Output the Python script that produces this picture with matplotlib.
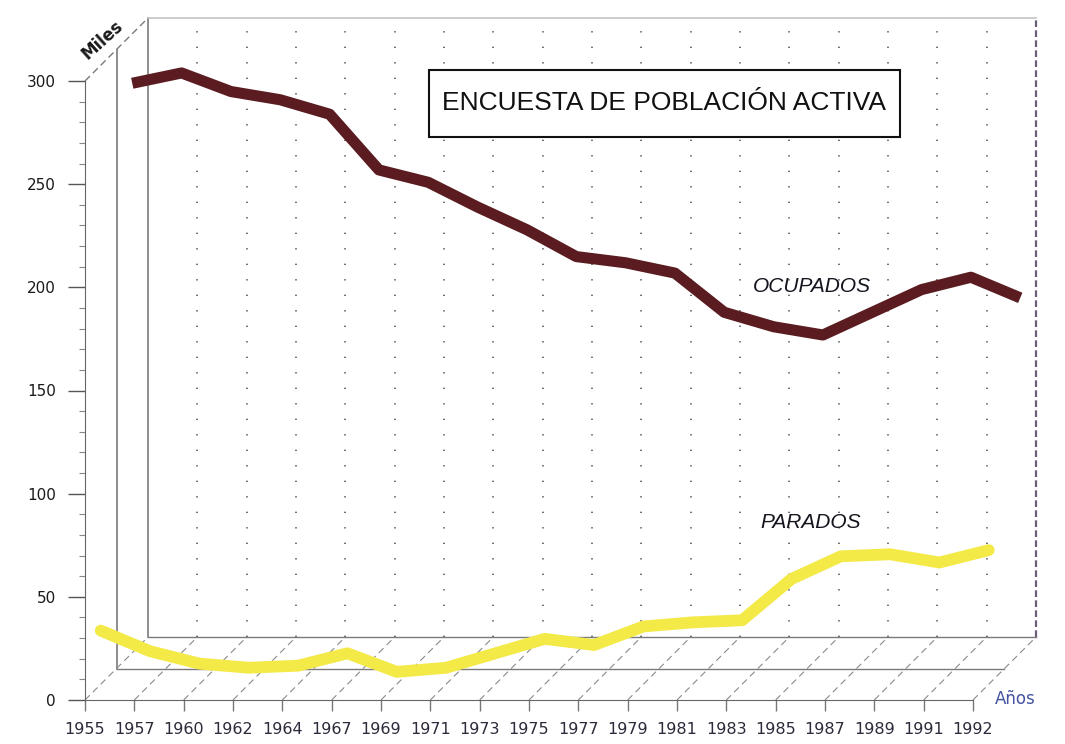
import matplotlib
matplotlib.use("Agg")
import matplotlib.pyplot as plt
from matplotlib.patches import Rectangle
from matplotlib.ticker import MultipleLocator
import numpy as np

years = ['1955', '1957', '1960', '1962', '1964', '1967', '1969', '1971', '1973',
         '1975', '1977', '1979', '1981', '1983', '1985', '1987', '1989', '1991', '1992']
ocupados = [276, 281, 272, 268, 261, 234, 228, 216, 205, 192,
            189, 184, 165, 158, 154, 165, 176, 182, 172]
parados = [26, 16, 10, 8, 9, 15, 6, 8, 15, 22,
           19, 28, 30, 31, 51, 62, 63, 59, 65]

W, H = 1065, 744
fig = plt.figure(figsize=(W / 100, H / 100), dpi=100)
fig.patch.set_facecolor('white')

# front plane of the pseudo 3d box
left, right, bottom, top = 85, 973, 44, 663
ax = fig.add_axes([left / W, bottom / H, (right - left) / W, (top - bottom) / H])
ax.set_xlim(0, 18)
ax.set_ylim(0, 300)
ax.set_facecolor('none')

# depth step (pixels) converted to data units
depth_px = 31.5
ddx = depth_px / ((right - left) / 18)
ddy = depth_px / ((top - bottom) / 300)
x = np.arange(len(years))

grey = '#7a7a7a'

# back wall
bx = 2 * ddx
by = 2 * ddy
ax.plot([bx, bx], [by, 300 + by], color=grey, lw=1.2, clip_on=False)
ax.plot([bx, 18 + bx], [300 + by, 300 + by], color='#c4c4c4', lw=1.2, clip_on=False)
ax.plot([18 + bx, 18 + bx], [by, 300 + by], color='#6a5d78', lw=1.6,
        ls=(0, (3, 1.5)), clip_on=False)
for i in x[1:-1]:
    ax.plot([i + bx, i + bx], [by, 300 + by], color='#555555', lw=1.2,
            ls=(0, (0.8, 8.5)), clip_on=False)

# middle plane edge
ax.plot([ddx, ddx], [ddy, 300 + ddy], color=grey, lw=1.2, clip_on=False)
ax.plot([0, bx], [300, 300 + by], color=grey, lw=1, ls=(0, (5, 3)), clip_on=False)

# floor
ax.plot([ddx, 18 + ddx], [ddy, ddy], color=grey, lw=1, clip_on=False)
ax.plot([bx, 18 + bx], [by, by], color=grey, lw=1, clip_on=False)
for i in x:
    ax.plot([i, i + bx], [0, by], color='#8a8a8a', lw=0.8, ls=(0, (6, 4)), clip_on=False)

# series
ax.plot(x + 1.5 * ddx, np.array(ocupados) + 1.5 * ddy, color='#5a1c20', lw=8,
        solid_joinstyle='round', solid_capstyle='butt', clip_on=False, zorder=5)
ax.plot(x + 0.5 * ddx, np.array(parados) + 0.5 * ddy, color='#f3ea48', lw=8.5,
        solid_joinstyle='round', solid_capstyle='round', clip_on=False, zorder=6)

# axes styling
for s in ['top', 'right']:
    ax.spines[s].set_visible(False)
ax.spines['left'].set_color('#666666')
ax.spines['bottom'].set_color('#666666')
ax.yaxis.set_major_locator(MultipleLocator(50))
ax.yaxis.set_minor_locator(MultipleLocator(10))
ax.tick_params(axis='y', which='major', length=12, width=1, color='#555555',
               pad=9, labelsize=11, labelcolor='#1a1a1a')
ax.tick_params(axis='y', which='minor', length=4, width=0.8, color='#888888')
ax.set_xticks(x)
ax.set_xticklabels(years)
ax.tick_params(axis='x', length=8, width=1, color='#777777', pad=8,
               labelsize=11.5, labelcolor='#2b2b3b')

ax.text(0.36, 320, 'Miles', rotation=42, ha='center', va='center',
        fontsize=12, fontweight='bold', color='#1a1a1a', clip_on=False)
fig.text(1015 / W, 1 - 699 / H, 'Años', ha='center', va='center',
         fontsize=12, color='#4452a0')

# title box
fig.add_artist(Rectangle((429 / W, 1 - 137 / H), 471 / W, 67 / H,
                         transform=fig.transFigure, facecolor='white',
                         edgecolor='#111111', lw=1.5, zorder=8))
fig.text(664 / W, 1 - 103 / H, 'ENCUESTA DE POBLACIÓN ACTIVA', ha='center', va='center',
         fontsize=19, family='Liberation Sans', color='#111111', zorder=9)

fig.text(812 / W, 1 - 287 / H, 'OCUPADOS', ha='center', va='center', style='italic',
         fontsize=15, family='Liberation Sans', color='#15151f', zorder=9)
fig.text(811 / W, 1 - 522 / H, 'PARADOS', ha='center', va='center', style='italic',
         fontsize=15, family='Liberation Sans', color='#15151f', zorder=9)

fig.savefig('out.png', dpi=100)
